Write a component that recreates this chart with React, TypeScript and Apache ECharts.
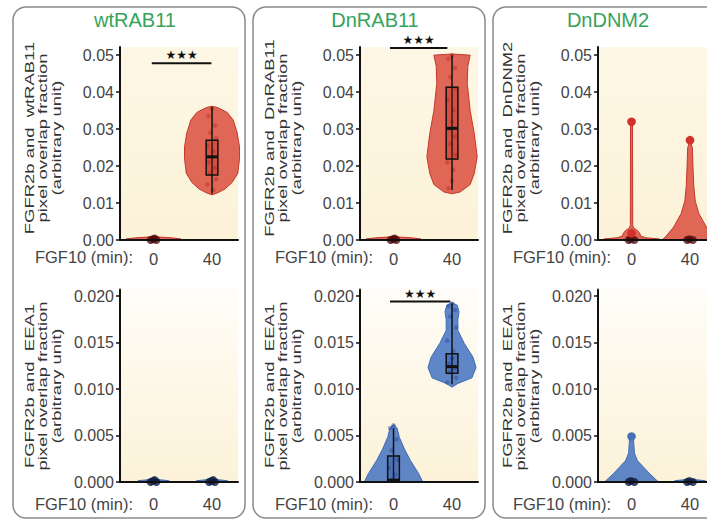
import React, { useEffect, useRef } from 'react';
import * as echarts from 'echarts';

// ---------------- data ----------------
const xCategories = ['0', '40'];
const panelTitles = ['wtRAB11', 'DnRAB11', 'DnDNM2'];
const topAxisNames = [
  'FGFR2b and  wtRAB11\npixel overlap fraction\n(arbitrary unit)',
  'FGFR2b and  DnRAB11\npixel overlap fraction\n(arbitrary unit)',
  'FGFR2b and  DnDNM2\npixel overlap fraction\n(arbitrary unit)',
];
const bottomAxisName = 'FGFR2b and  EEA1\npixel overlap fraction\n(arbitrary unit)';
const xAxisCaption = 'FGF10 (min):';
const topTicks = [0, 0.01, 0.02, 0.03, 0.04, 0.05];
const bottomTicks = [0, 0.005, 0.01, 0.015, 0.02];
const sigLabel = '★★★';

// violin outlines: [value, half width in category units]
const flatTopProfile = [[0, 0.48], [0.0003, 0.47], [0.0006, 0.3], [0.0009, 0]];
const flatBottomProfile = [[0, 0.3], [0.00015, 0.25], [0.0003, 0]];

const wtRab11Min40Profile = [[0.0122, 0], [0.0128, 0.1], [0.0138, 0.22], [0.0155, 0.34], [0.018, 0.44], [0.022, 0.47], [0.0252, 0.47], [0.029, 0.43], [0.0325, 0.36], [0.0345, 0.26], [0.0358, 0.1], [0.0362, 0]];
const wtRab11Min40Box = [0.0125, 0.0176, 0.0225, 0.027, 0.036];
const wtRab11Min40Points = [0.0355, 0.0335, 0.031, 0.029, 0.0275, 0.0255, 0.024, 0.0225, 0.021, 0.0195, 0.018, 0.0165, 0.015, 0.0135];
const wtRab11Min0Zeros = [0, 0, 0.0002, 0.0004];

const dnRab11Min40Profile = [[0.0125, 0], [0.013, 0.14], [0.015, 0.31], [0.018, 0.38], [0.0225, 0.43], [0.0288, 0.38], [0.035, 0.31], [0.0424, 0.26], [0.047, 0.27], [0.05, 0.31], [0.0503, 0]];
const dnRab11Min40Box = [0.0135, 0.0219, 0.0302, 0.0413, 0.05];
const dnRab11Min40Points = [0.05, 0.049, 0.0465, 0.044, 0.041, 0.038, 0.035, 0.032, 0.03, 0.028, 0.026, 0.023, 0.021, 0.019, 0.016, 0.014];
const dnRab11Min0Zeros = [0, 0, 0.0002, 0.0004];

const dnDnm2Min0Profile = [[0, 0.49], [0.0003, 0.47], [0.0006, 0.25], [0.001, 0.16], [0.0018, 0.14], [0.0026, 0.1], [0.0032, 0.04], [0.004, 0.02], [0.0315, 0.017], [0.032, 0]];
const dnDnm2Min0Outliers = [0.032, 0.0018];
const dnDnm2Min0Zeros = [0, 0, 0.0002];
const dnDnm2Min40Profile = [[0, 0.48], [0.001, 0.41], [0.0035, 0.28], [0.0072, 0.15], [0.0105, 0.09], [0.0144, 0.065], [0.02, 0.05], [0.025, 0.04], [0.0268, 0]];
const dnDnm2Min40Outliers = [0.027];
const dnDnm2Min40Zeros = [0, 0, 0.0002];

const wtEea1Min0Zeros = [0, 0, 0.0001, 0.0002];
const wtEea1Min40Zeros = [0, 0, 0.0001, 0.0002];

const dnEea1Min0Profile = [[0, 0.5], [0.0009, 0.43], [0.0023, 0.29], [0.0035, 0.19], [0.0048, 0.1], [0.0058, 0.06], [0.0062, 0]];
const dnEea1Min0Box = [0, 0, 0.0002, 0.0028, 0.0058];
const dnEea1Min0Points = [0.0061, 0.0058, 0.0046, 0.0034, 0.0024, 0.0015, 0.0008, 0.0003];
const dnEea1Min40Profile = [[0.0102, 0], [0.0106, 0.1], [0.0112, 0.34], [0.0123, 0.41], [0.0134, 0.36], [0.0149, 0.21], [0.0163, 0.1], [0.0175, 0.1], [0.0183, 0.12], [0.019, 0.09], [0.0193, 0]];
const dnEea1Min40Box = [0.0105, 0.0117, 0.0124, 0.0138, 0.0192];
const dnEea1Min40Points = [0.0192, 0.0189, 0.0185, 0.0178, 0.0166, 0.0152, 0.0141, 0.0133, 0.0127, 0.0122, 0.0118, 0.0112, 0.0107];

const dnmEea1Min0Profile = [[0, 0.46], [0.0009, 0.31], [0.0023, 0.1], [0.0031, 0.05], [0.0045, 0.035], [0.0048, 0]];
const dnmEea1Min0Outliers = [0.0049];
const dnmEea1Min0Zeros = [0, 0, 0.0001];
const dnmEea1Min40Zeros = [0, 0, 0.0001];

// significance bars: [from x, to x, value]
const sigWtRab11 = [-0.03, 0.99, 0.0478];
const sigDnRab11 = [-0.06, 0.92, 0.0519];
const sigDnEea1 = [-0.06, 0.97, 0.0194];

// ---------------- layout / style ----------------
const FONT = "'Liberation Sans', Arial, Helvetica, sans-serif";
const axisXs = [120, 360, 598];
const titleXs = [135, 375, 608];
const plotW = 118;
const xMin = -0.573;
const xMax = 1.444;
const rows = [
  { top: 47, height: 193, max: 0.0522, ticks: topTicks, dec: 2, labelMargin: 10, captionY: 257, nameY: 138 },
  { top: 289.5, height: 192.5, max: 0.0207, ticks: bottomTicks, dec: 3, labelMargin: 13, captionY: 504, nameY: 386 },
];
const RED = { fill: 'rgba(214,58,44,0.76)', stroke: '#c4382b', point: 'rgba(170,30,20,0.35)', box: 'rgba(180,30,20,0.3)', blob: 'rgba(80,8,8,0.75)', outlier: '#d2302a' };
const BLUE = { fill: 'rgba(55,105,190,0.8)', stroke: '#3d6bb5', point: 'rgba(30,65,150,0.4)', box: 'rgba(30,60,140,0.25)', blob: 'rgba(15,30,70,0.8)', outlier: '#4670b8' };
const jitter = [0, -0.06, 0.05, -0.03, 0.07, -0.08, 0.02];
const blobOffsets = [-0.05, 0.05, -0.01, 0.02];
const boxHalf = 0.1;

type Violin = { x: number; profile?: number[][]; box?: number[]; points?: number[]; zeros?: number[]; outliers?: number[] };

const gridViolins: Violin[][] = [
  [
    { x: 0, profile: flatTopProfile, zeros: wtRab11Min0Zeros },
    { x: 1, profile: wtRab11Min40Profile, box: wtRab11Min40Box, points: wtRab11Min40Points },
  ],
  [
    { x: 0, profile: flatTopProfile, zeros: dnRab11Min0Zeros },
    { x: 1, profile: dnRab11Min40Profile, box: dnRab11Min40Box, points: dnRab11Min40Points },
  ],
  [
    { x: 0, profile: dnDnm2Min0Profile, outliers: dnDnm2Min0Outliers, zeros: dnDnm2Min0Zeros },
    { x: 1, profile: dnDnm2Min40Profile, outliers: dnDnm2Min40Outliers, zeros: dnDnm2Min40Zeros },
  ],
  [
    { x: 0, profile: flatBottomProfile, zeros: wtEea1Min0Zeros },
    { x: 1, profile: flatBottomProfile, zeros: wtEea1Min40Zeros },
  ],
  [
    { x: 0, profile: dnEea1Min0Profile, box: dnEea1Min0Box, points: dnEea1Min0Points },
    { x: 1, profile: dnEea1Min40Profile, box: dnEea1Min40Box, points: dnEea1Min40Points },
  ],
  [
    { x: 0, profile: dnmEea1Min0Profile, outliers: dnmEea1Min0Outliers, zeros: dnmEea1Min0Zeros },
    { x: 1, profile: flatBottomProfile, zeros: dnmEea1Min40Zeros },
  ],
];
const gridSigs: (number[] | null)[] = [sigWtRab11, sigDnRab11, null, null, sigDnEea1, null];

function makeViolinRender(violins: Violin[], pal: typeof RED) {
  return (params: any, api: any) => {
    const v = violins[params.dataIndex];
    const children: any[] = [];
    if (v.profile) {
      const right = v.profile.map(([y, w]) => api.coord([v.x + w, y]));
      const left = v.profile.slice().reverse().map(([y, w]) => api.coord([v.x - w, y]));
      children.push({ type: 'polygon', shape: { points: right.concat(left) }, style: { fill: pal.fill, stroke: pal.stroke, lineWidth: 1 } });
    }
    (v.points || []).forEach((p, i) => {
      const c = api.coord([v.x + jitter[i % jitter.length], p]);
      children.push({ type: 'circle', shape: { cx: c[0], cy: c[1], r: 2.3 }, style: { fill: pal.point } });
    });
    if (v.box) {
      const [mn, q1, md, q3, mx] = v.box;
      const a = api.coord([v.x, mn]);
      const b = api.coord([v.x, mx]);
      children.push({ type: 'line', shape: { x1: a[0], y1: a[1], x2: b[0], y2: b[1] }, style: { stroke: '#111', lineWidth: 1.5 } });
      const tl = api.coord([v.x - boxHalf, q3]);
      const br = api.coord([v.x + boxHalf, q1]);
      children.push({ type: 'rect', shape: { x: tl[0], y: tl[1], width: br[0] - tl[0], height: Math.max(br[1] - tl[1], 1) }, style: { fill: pal.box, stroke: '#111', lineWidth: 1.5 } });
      const m1 = api.coord([v.x - boxHalf, md]);
      const m2 = api.coord([v.x + boxHalf, md]);
      children.push({ type: 'line', shape: { x1: m1[0], y1: m1[1], x2: m2[0], y2: m2[1] }, style: { stroke: '#111', lineWidth: 3 } });
    }
    (v.zeros || []).forEach((p, i) => {
      const c = api.coord([v.x + blobOffsets[i % blobOffsets.length], p]);
      children.push({ type: 'circle', shape: { cx: c[0], cy: c[1], r: 4 }, style: { fill: pal.blob } });
    });
    (v.outliers || []).forEach((p) => {
      const c = api.coord([v.x, p]);
      children.push({ type: 'circle', shape: { cx: c[0], cy: c[1], r: 4.3 }, style: { fill: pal.outlier } });
    });
    return { type: 'group', children };
  };
}

function sigRender(params: any, api: any) {
  const p1 = api.coord([api.value(0), api.value(2)]);
  const p2 = api.coord([api.value(1), api.value(2)]);
  return {
    type: 'group',
    children: [
      { type: 'line', shape: { x1: p1[0], y1: p1[1], x2: p2[0], y2: p2[1] }, style: { stroke: '#111', lineWidth: 2 } },
      {
        type: 'text', x: (p1[0] + p2[0]) / 2, y: p1[1] - 2,
        style: { text: sigLabel, fontSize: 12, fontFamily: 'DejaVu Sans', fill: '#111', align: 'center', verticalAlign: 'bottom', textAlign: 'center', textVerticalAlign: 'bottom' },
      },
    ],
  };
}

function buildOption() {
  const grids: any[] = [];
  const xAxes: any[] = [];
  const yAxes: any[] = [];
  const series: any[] = [];
  const graphics: any[] = [];

  // panel frames
  const frames = [[13, 232], [253, 232], [493, 260]];
  frames.forEach(([x, w]) => {
    graphics.push({ type: 'rect', z: -10, shape: { x, y: 7, width: w, height: 511, r: 13 }, style: { fill: 'none', stroke: '#8a8a8a', lineWidth: 1.5 } });
  });

  rows.forEach((row, r) => {
    axisXs.forEach((ax, c) => {
      const g = r * 3 + c;
      const bg = r === 0
        ? new echarts.graphic.LinearGradient(0, 0, 0, 1, [{ offset: 0, color: '#fdf7e5' }, { offset: 1, color: '#fcf2d8' }])
        : new echarts.graphic.LinearGradient(0, 0, 0, 1, [{ offset: 0, color: '#fffdf8' }, { offset: 1, color: '#fcf2d8' }]);
      grids.push({ left: ax, top: row.top, width: plotW, height: row.height, show: true, backgroundColor: bg, borderWidth: 0, outerBoundsMode: 'none', containLabel: false });
      xAxes.push({
        gridIndex: g, type: 'value', min: xMin, max: xMax, z: 5,
        axisLine: { show: true, onZero: false, lineStyle: { color: '#111', width: 2 } },
        axisTick: { show: false },
        splitLine: { show: false },
        axisLabel: {
          customValues: [0, 1], formatter: (v: number) => xCategories[Math.round(v)],
          fontSize: 16.5, color: '#444', margin: row.labelMargin, fontFamily: FONT,
        },
      });
      yAxes.push({
        gridIndex: g, type: 'value', min: 0, max: row.max, z: 5,
        axisLine: { show: true, onZero: false, lineStyle: { color: '#111', width: 2 } },
        axisTick: { show: true, length: 4, customValues: row.ticks, lineStyle: { color: '#111', width: 1.5 } },
        splitLine: { show: false },
        axisLabel: {
          customValues: row.ticks, formatter: (v: number) => v.toFixed(row.dec),
          fontSize: 16, color: '#444', margin: 6, fontFamily: FONT,
        },
      });
      const pal = r === 0 ? RED : BLUE;
      const violins = gridViolins[g];
      series.push({
        type: 'custom', xAxisIndex: g, yAxisIndex: g, clip: false, z: 2,
        data: violins.map((v, i) => [v.x, i]),
        renderItem: makeViolinRender(violins, pal),
      });
      const sig = gridSigs[g];
      if (sig) {
        series.push({ type: 'custom', xAxisIndex: g, yAxisIndex: g, clip: false, z: 6, data: [sig], renderItem: sigRender });
      }
      // axis captions
      graphics.push({
        type: 'text', x: ax - 77, y: row.nameY, rotation: Math.PI / 2, scaleX: 1.42,
        style: {
          text: r === 0 ? topAxisNames[c] : bottomAxisName, fontSize: 13, lineHeight: 13.5, fontFamily: FONT, fill: '#333',
          align: 'center', verticalAlign: 'middle', textAlign: 'center', textVerticalAlign: 'middle',
        },
      });
      graphics.push({
        type: 'text', x: ax + 13, y: row.captionY,
        style: { text: xAxisCaption, fontSize: 16.5, fontFamily: FONT, fill: '#444', align: 'right', verticalAlign: 'middle', textAlign: 'right', textVerticalAlign: 'middle' },
      });
    });
  });

  titleXs.forEach((tx, c) => {
    graphics.push({
      type: 'text', x: tx, y: 20,
      style: { text: panelTitles[c], fontSize: 20, fontFamily: FONT, fill: '#35a35a', align: 'center', verticalAlign: 'middle', textAlign: 'center', textVerticalAlign: 'middle' },
    });
  });

  return {
    animation: false,
    backgroundColor: '#ffffff',
    grid: grids,
    xAxis: xAxes,
    yAxis: yAxes,
    series,
    graphic: { elements: graphics },
  };
}

export default function App() {
  const ref = useRef<HTMLDivElement>(null);
  useEffect(() => {
    if (!ref.current) return;
    const chart = echarts.init(ref.current, undefined, { renderer: 'svg' });
    chart.setOption(buildOption() as any);
    return () => chart.dispose();
  }, []);
  return <div ref={ref} style={{ position: 'fixed', left: 0, top: 0, width: 707, height: 520 }} />;
}
